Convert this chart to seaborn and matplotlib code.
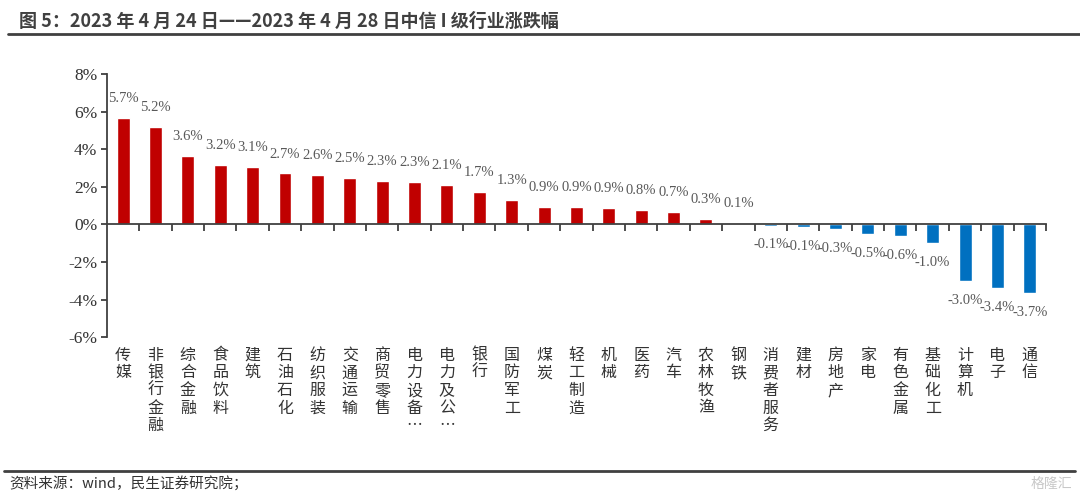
import numpy as np
import pandas as pd
import matplotlib
matplotlib.use("Agg")
import matplotlib.pyplot as plt
from matplotlib.lines import Line2D
from matplotlib.ticker import FixedLocator, FuncFormatter
import seaborn as sns

# Data
industries = ["传媒", "非银行金融", "综合金融", "食品饮料", "建筑", "石油石化", "纺织服装",
              "交通运输", "商贸零售", "电力设备…", "电力及公…", "银行", "国防军工", "煤炭",
              "轻工制造", "机械", "医药", "汽车", "农林牧渔", "钢铁", "消费者服务", "建材",
              "房地产", "家电", "有色金属", "基础化工", "计算机", "电子", "通信"]
changes = [5.66, 5.18, 3.62, 3.17, 3.07, 2.71, 2.63, 2.48, 2.31, 2.27, 2.09, 1.71, 1.32, 0.92,
           0.93, 0.90, 0.77, 0.67, 0.27, 0.08, -0.06, -0.12, -0.27, -0.51, -0.63, -0.99,
           -3.03, -3.38, -3.66]
y_ticks = [-6, -4, -2, 0, 2, 4, 6, 8]

df = pd.DataFrame({"industry": industries, "change": changes})
df["sign"] = np.where(df["change"] >= 0, "up", "down")

sns.set_theme(style="white")
plt.rcParams["font.family"] = ["Noto Sans CJK SC", "DejaVu Sans"]

fig = plt.figure(figsize=(10.8, 5.04), dpi=100)
ax = fig.add_axes([0.099, 0.331, 0.8695, 0.522])

sns.barplot(data=df, x="industry", y="change", hue="sign",
            palette={"up": "#C00000", "down": "#0070C0"},
            width=0.4, legend=False, ax=ax, saturation=1)

# data labels
for i, v in enumerate(changes):
    ax.annotate(f"{v:.1f}%", (i, v), xytext=(0, 14 if v >= 0 else -14),
                textcoords="offset points", ha="center", va="center",
                fontsize=10.5, color="#595959", family="Liberation Serif")

ax.set_xlim(-0.5, len(industries) - 0.5)
ax.set_ylim(-6, 8)
ax.yaxis.set_major_locator(FixedLocator(y_ticks))
ax.yaxis.set_major_formatter(FuncFormatter(lambda v, p: f"{v:.0f}%"))

ax.spines["top"].set_visible(False)
ax.spines["right"].set_visible(False)
ax.spines["bottom"].set_position(("data", 0))
for s in ("left", "bottom"):
    ax.spines[s].set_color("#404040")
    ax.spines[s].set_linewidth(1.3)

ax.set_xlabel("")
ax.set_ylabel("")
ax.set_xticks(range(len(industries)))
ax.set_xticklabels(["\n".join(list(n)) for n in industries], fontsize=11.5,
                   color="#333333", linespacing=1.05)
ax.set_xticks(np.arange(0.5, len(industries), 1), minor=True)
ax.tick_params(axis="x", which="major", length=0, pad=88)
ax.tick_params(axis="x", which="minor", direction="out", length=5, width=1.3,
               color="#404040", bottom=True)
ax.tick_params(axis="y", direction="out", length=4, width=1.3, color="#404040",
               left=True, pad=3, labelsize=12.5, labelcolor="#333333")

fig.canvas.draw()
for t in ax.yaxis.get_major_ticks():
    t.label1.set_family(["Liberation Serif"])

# title, rules and footer
fig.text(0.018, 0.958, "图 5：2023 年 4 月 24 日——2023 年 4 月 28 日中信 I 级行业涨跌幅",
         fontsize=13, fontweight="bold", color="#404040", va="center", ha="left")
fig.add_artist(Line2D([0.007, 1.0], [0.932, 0.932], color="#404040", linewidth=2))
fig.add_artist(Line2D([0.004, 0.995], [0.066, 0.066], color="#404040", linewidth=2))
fig.text(0.009, 0.040, "资料来源：wind，民生证券研究院；", fontsize=10.5,
         color="#333333", va="center", ha="left")
fig.text(0.993, 0.040, "格隆汇", fontsize=10, color="#c8c8c8", va="center", ha="right")

fig.savefig("out.png", dpi=100)
